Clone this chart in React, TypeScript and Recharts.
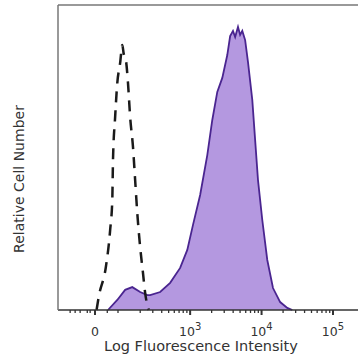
import React from "react"
import { ComposedChart, Area, Line, XAxis, YAxis, ReferenceLine } from "recharts"

// x is in display units of a biexponential axis: 10^3 -> 3, 10^4 -> 4, 10^5 -> 5
const isotypeX = [1.69, 1.72, 1.82, 1.88, 1.91, 1.92, 1.95, 1.98, 2.02, 2.05, 2.07, 2.1, 2.13, 2.16, 2.2, 2.23, 2.26, 2.3, 2.34, 2.37, 2.4, 2.42]
const isotypeY = [0, 4.3, 14.1, 26.2, 36.1, 49.2, 63.3, 74.4, 81, 86.9, 84, 82, 74.4, 63.3, 53.4, 42.6, 31.8, 20.7, 12.1, 5.6, 1.6, 0]

const stainedX = [1.85, 1.98, 2.09, 2.19, 2.3, 2.4, 2.44, 2.58, 2.72, 2.86, 2.96, 3.04, 3.14, 3.24, 3.31, 3.38, 3.45, 3.52, 3.56, 3.6, 3.63, 3.67, 3.7, 3.73, 3.77, 3.81, 3.87, 3.91, 3.95, 4.01, 4.08, 4.16, 4.26, 4.36, 4.43]
const stainedY = [0, 3.3, 6.6, 7.5, 5.9, 4.9, 4.9, 5.9, 8.9, 13.8, 19.7, 27.9, 37.7, 50.8, 62.3, 71.5, 76.1, 83.6, 89.8, 91.5, 89.5, 92.8, 90.2, 91.5, 88.5, 81.3, 68.9, 55.7, 42.6, 29.5, 16.4, 7.2, 2.6, 0.7, 0]

const majorTicks = [1.668, 3, 4, 5]
const majorLabels = ["0", "3", "4", "5"]
const linearTicks = [1.32, 1.39, 1.46, 1.56, 1.6, 1.84, 1.99]
const logTicks = [2, 3, 4].flatMap((d) => [2, 3, 4, 5, 6, 7, 8, 9].map((k) => d + Math.log10(k)))
const allTicks = [...linearTicks, ...logTicks, ...majorTicks].sort((a, b) => a - b)

const isotype = isotypeX.map((u, i) => ({ u, v: isotypeY[i] }))
const stained = stainedX.map((u, i) => ({ u, v: stainedY[i] }))

const font = "DejaVu Sans, sans-serif"

function AxisTick(props: any) {
  const { x, y, payload } = props
  const idx = majorTicks.indexOf(payload.value)
  const major = idx >= 0
  return (
    <g>
      <line x1={x} x2={x} y1={y} y2={y + (major ? 5 : 3)} stroke="#333" strokeWidth={major ? 2 : 1.3} />
      {major && idx === 0 && (
        <text x={x} y={y + 26} textAnchor="middle" fontSize={12.5} fontFamily={font} fill="#333">0</text>
      )}
      {major && idx > 0 && (
        <text x={x} y={y + 26} textAnchor="middle" fontSize={12.5} fontFamily={font} fill="#333">
          10<tspan dy={-6} fontSize={10}>{majorLabels[idx]}</tspan>
        </text>
      )}
    </g>
  )
}

export default function App() {
  return (
    <div style={{ position: "absolute", left: 0, top: 0, width: 358, height: 358, overflow: "hidden", background: "#fff" }}>
      <ComposedChart width={358} height={358} margin={{ top: 5, right: 0, bottom: 0, left: 0 }}>
        <XAxis
          dataKey="u"
          type="number"
          domain={[1.15, 5.35]}
          allowDataOverflow
          ticks={allTicks}
          interval={0}
          tick={<AxisTick />}
          tickLine={false}
          tickSize={0}
          tickMargin={0}
          axisLine={{ stroke: "#333", strokeWidth: 1.5 }}
          height={48}
          label={{
            content: () => (
              <text x={201} y={351} textAnchor="middle" fontSize={14.5} fontFamily={font} fill="#333">
                Log Fluorescence Intensity
              </text>
            ),
          }}
        />
        <YAxis
          type="number"
          domain={[0, 100]}
          width={58}
          tick={false}
          tickLine={false}
          axisLine={{ stroke: "#777", strokeWidth: 1.5 }}
          label={{
            content: () => (
              <text x={24} y={179} transform="rotate(-90, 24, 179)" textAnchor="middle" fontSize={14} fontFamily={font} fill="#333">
                Relative Cell Number
              </text>
            ),
          }}
        />
        <ReferenceLine y={100} stroke="#777" strokeWidth={1.5} />
        <Area
          data={stained}
          dataKey="v"
          type="linear"
          fill="#b498e0"
          fillOpacity={1}
          stroke="#4a2590"
          strokeWidth={1.8}
          isAnimationActive={false}
        />
        <Line
          data={isotype}
          dataKey="v"
          type="monotone"
          stroke="#1a1a1a"
          strokeWidth={2.5}
          strokeDasharray="11 8"
          dot={false}
          isAnimationActive={false}
        />
      </ComposedChart>
    </div>
  )
}
